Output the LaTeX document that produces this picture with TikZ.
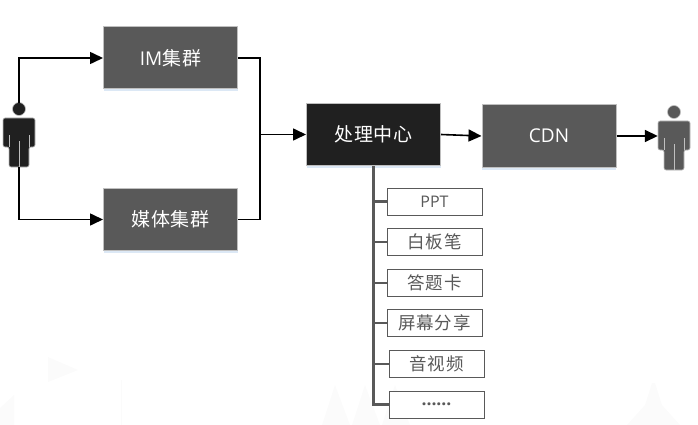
\documentclass[tikz,border=0pt]{standalone}
\usepackage{fontspec}
\setmainfont{Open Sans}
\newfontfamily\cjk[LetterSpace=5]{Noto Sans CJK SC}
\usepackage{xcolor}
\usetikzlibrary{arrows.meta,positioning,calc,shadows}
\definecolor{boxgray}{HTML}{595959}
\definecolor{boxdark}{HTML}{202020}
\definecolor{edgegray}{HTML}{BFBFBF}
\definecolor{markgray}{HTML}{FBFBFB}
\definecolor{shadeblue}{HTML}{DCE8F5}
\tikzset{
  softshadow/.style={drop shadow={shadow xshift=0pt,shadow yshift=-2.5pt,fill=shadeblue,opacity=1}},
  bigbox/.style={draw=edgegray,line width=1pt,fill=boxgray,text=white,minimum width=134pt,minimum height=62pt,inner sep=0pt,font=\fontsize{19}{22}\selectfont,softshadow},
  smallbox/.style={draw=boxgray,line width=1pt,fill=white,text=boxgray,minimum width=95pt,minimum height=27pt,inner sep=0pt,font=\fontsize{17.5}{20}\selectfont},
  flow/.style={-{Triangle[length=13pt,width=12pt]},line width=1.6pt,black},
  link/.style={line width=1.6pt,black},
  branch/.style={line width=2.2pt,boxgray},
  usernode/.style={minimum width=32pt,minimum height=64pt,inner sep=0pt},
  pics/person/.style={code={
    \fill[#1,draw=edgegray,line width=.6pt] (0,-26) circle (6.5pt);
    \fill[#1,draw=edgegray,line width=.6pt,rounded corners=2pt] (-16,-17) -- (-16,12) -- (-10,12) -- (-10,32) -- (10,32) -- (10,12) -- (16,12) -- (16,-17) -- cycle;
    \draw[edgegray,line width=.6pt] (0,32) -- (0,6) (-10,12) -- (-10,0) (10,12) -- (10,0);
  }},
}
\begin{document}
\begin{tikzpicture}[x=1pt,y=-1pt,>=Latex]
  \useasboundingbox (0,0) rectangle (698,425);
  % faint marks behind
  \fill[markgray] (48,357) -- (78,370) -- (48,382) -- cycle;
  \fill[markgray] (0,425) -- (0,408) -- (14,395) -- (14,425) -- cycle;
  \fill[markgray] (120.5,380) rectangle (122,425);
  \fill[markgray] (322,425) -- (335,385) -- (350,425) -- cycle (352,425) -- (365,385) -- (380,425) -- cycle (382,425) -- (395,385) -- (410,425) -- cycle;
  \fill[markgray] (627,425) -- (645,405) -- (652,383) -- (655,383) -- (662,405) -- (680,425) -- cycle;

  \node[bigbox] (im) at (170.5,58) {IM{\cjk 集群}};
  \node[bigbox] (media) at (170.5,219.5) {{\cjk 媒体集群}};
  \node[bigbox,fill=boxdark] (center) at (373.5,134.5) {{\cjk 处理中心}};
  \node[bigbox] (cdn) at (549,136) {CDN};
  \node[usernode] (userl) at (19,135) {};
  \node[usernode] (userr) at (674,138) {};
  \pic at (userl) {person=boxdark};
  \pic at (userr) {person=boxgray};

  \node[smallbox,font=\fontsize{16}{19}\selectfont] (ppt) at (434.5,201.5) {PPT};
  \node[smallbox,below=12.6pt of ppt] (board) {{\cjk 白板笔}};
  \node[smallbox,below=12.6pt of board] (card) {{\cjk 答题卡}};
  \node[smallbox,below=12.6pt of card] (share) {{\cjk 屏幕分享}};
  \node[smallbox,below=12.6pt of share,xshift=2pt] (av) {{\cjk 音视频}};
  \node[smallbox,below=12.6pt of av] (more) {\bfseries ......};

  \coordinate (merge) at (260,134.5);
  \draw[flow] (userl.north) |- (im.west);
  \draw[flow] (userl.south) |- (media.west);
  \draw[link] (im.east) -| (merge);
  \draw[link] (media.east) -| (merge);
  \draw[flow] (merge) -- (center.west);
  \draw[flow] (center.east) -- (cdn.west);
  \draw[flow] (cdn.east) -- (cdn.east -| userr.west);
  \draw[branch] (center.south) |- (more.west);
  \foreach \n in {ppt,board,card,share,av}
    \draw[branch] (center.south |- \n.west) -- (\n.west);
\end{tikzpicture}
\end{document}
